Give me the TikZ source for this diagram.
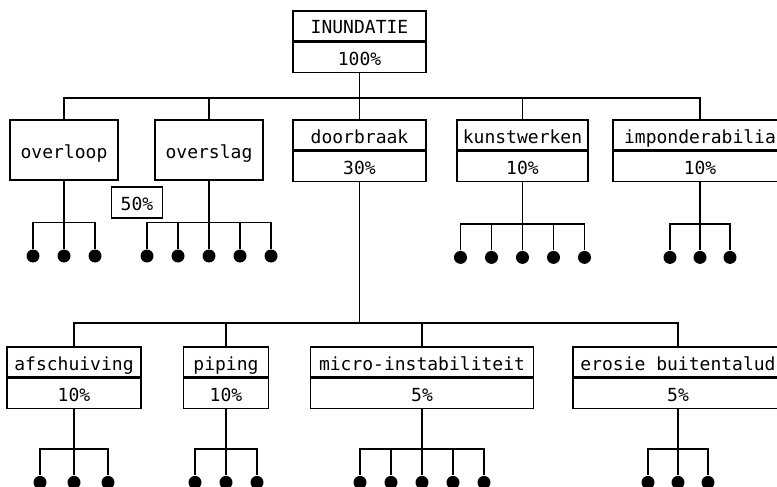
\documentclass[tikz,border=0pt]{standalone}
\usepackage{fontspec}
\newfontfamily\plotter{DejaVu Sans Mono}
\usepackage{tikz}
\usetikzlibrary{trees,positioning}
\tikzstyle{cell} = [draw, rectangle, inner sep=0pt, minimum height=30pt, text height=17pt, text depth=1pt]
\tikzstyle{sbox} = [cell, minimum height=60pt]
\tikzset{
  % edge styles
  spread/.style={edge from parent path={(\tikzparentnode.south) -- +(0pt,-#1) -| (\tikzchildnode.north)}},
  % node styles
  dot/.style={circle, fill, inner sep=0pt, minimum size=13pt},
}

\begin{document}
\begin{tikzpicture}[x=1pt, y=-1pt, line width=1.4pt, font=\plotter\fontsize{18}{20}\selectfont]
        \useasboundingbox (0,0) rectangle (777,487);
        % Top
        \node(IN)[cell, minimum width=133pt] at (359.5,26) {INUNDATIE};
        \node(INpct)[cell, minimum width=133pt, below=0pt of IN] {100\%};
        \coordinate(bar1) at (359.5,98);
        \draw (INpct.south) -- (bar1);
        % 1st level
        \node(OL)[sbox, minimum width=108pt] at (64,150) {overloop}
            [spread=42pt, level distance=106pt, sibling distance=31pt]
            child foreach \i in {1,2,3} {node[dot]{}}
        ;
        \node(OS)[sbox, minimum width=108pt] at (209,150) {overslag}
            [spread=42pt, level distance=106pt, sibling distance=31pt]
            child foreach \i in {1,...,5} {node[dot]{}}
        ;
        \node(OSval)[cell, minimum width=51pt, minimum height=31pt] at (137,202.5) {50\%};
        \node(DB)[cell, minimum width=133pt] at (359.5,135) {doorbraak};
        \node(DBpct)[cell, minimum width=133pt, below=0pt of DB] {30\%};
        \node(KW)[cell, minimum width=131pt] at (522.5,135) {kunstwerken};
        \node(KWpct)[cell, minimum width=131pt, below=0pt of KW] {10\%}
            [spread=42pt, level distance=91pt, sibling distance=31pt]
            child foreach \i in {1,...,5} {node[dot]{}}
        ;
        \node(IM)[cell, minimum width=174pt] at (700,135) {imponderabilia};
        \node(IMpct)[cell, minimum width=174pt, below=0pt of IM] {10\%}
            [spread=42pt, level distance=91pt, sibling distance=30pt]
            child foreach \i in {1,2,3} {node[dot]{}}
        ;
        \foreach \n in {OL,OS,DB,KW,IM} \draw (\n.north) |- (bar1);
        % 2nd level
        \coordinate(bar2) at (359.5,323);
        \draw (DBpct.south) -- (bar2);
        \node(AF)[cell, minimum width=134pt] at (74,362) {afschuiving};
        \node(AFpct)[cell, minimum width=134pt, below=0pt of AF] {10\%}
            [spread=40pt, level distance=89pt, sibling distance=34pt]
            child foreach \i in {1,2,3} {node[dot]{}}
        ;
        \node(PI)[cell, minimum width=85pt] at (226,362) {piping};
        \node(PIpct)[cell, minimum width=85pt, below=0pt of PI] {10\%}
            [spread=40pt, level distance=89pt, sibling distance=31pt]
            child foreach \i in {1,2,3} {node[dot]{}}
        ;
        \node(MI)[cell, minimum width=223pt] at (422,362) {micro-instabiliteit};
        \node(MIpct)[cell, minimum width=223pt, below=0pt of MI] {5\%}
            [spread=40pt, level distance=89pt, sibling distance=31pt]
            child foreach \i in {1,...,5} {node[dot]{}}
        ;
        \node(ER)[cell, minimum width=210pt] at (678,362) {erosie buitentalud};
        \node(ERpct)[cell, minimum width=210pt, below=0pt of ER] {5\%}
            [spread=40pt, level distance=89pt, sibling distance=30pt]
            child foreach \i in {1,2,3} {node[dot]{}}
        ;
        \foreach \n in {AF,PI,MI,ER} \draw (\n.north) |- (bar2);
    \end{tikzpicture}
\end{document}
